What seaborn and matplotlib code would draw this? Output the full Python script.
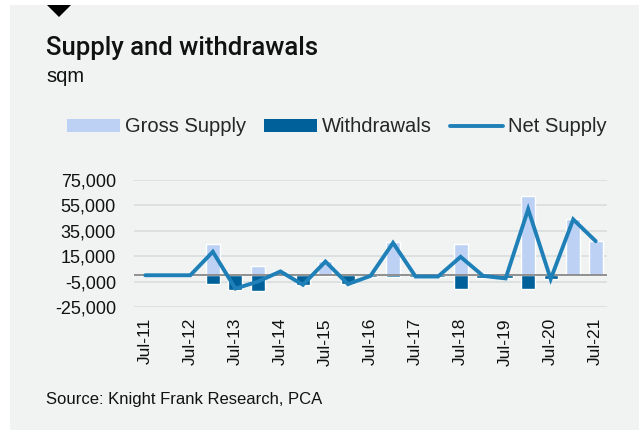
import numpy as np
import pandas as pd
import matplotlib
matplotlib.use('Agg')
import matplotlib.pyplot as plt
from matplotlib.patches import Rectangle, Polygon, Patch
from matplotlib.lines import Line2D
import seaborn as sns

# half-yearly periods, Jul-11 to Jul-21
periods = ['Jul-11', 'Jan-12', 'Jul-12', 'Jan-13', 'Jul-13', 'Jan-14', 'Jul-14',
           'Jan-15', 'Jul-15', 'Jan-16', 'Jul-16', 'Jan-17', 'Jul-17', 'Jan-18',
           'Jul-18', 'Jan-19', 'Jul-19', 'Jan-20', 'Jul-20', 'Jan-21', 'Jul-21']
gross = [0, 0, 0, 25000, 1000, 7500, 3000, 0, 11300, 0, 800, 26500, 500, 500,
         25000, 1500, 0, 62500, 0, 44000, 26800]
withdrawals = [0, 0, 0, -6500, -11500, -12500, 0, -7500, -500, -7000, -1300, -1000,
               -1500, -1500, -10500, -2000, -2500, -10500, -3000, 0, 0]
net = [0, 0, 0, 18500, -10500, -5000, 3000, -7500, 10800, -7000, -500, 25500,
       -1000, -1000, 14500, -500, -2500, 52000, -3000, 44000, 26800]
xtick_labels = ['Jul-11', 'Jul-12', 'Jul-13', 'Jul-14', 'Jul-15', 'Jul-16',
                'Jul-17', 'Jul-18', 'Jul-19', 'Jul-20', 'Jul-21']
yticks = [-25000, -5000, 15000, 35000, 55000, 75000]

sns.set_style('white')
plt.rcParams['font.family'] = ['Liberation Sans', 'DejaVu Sans']
plt.rcParams['axes.unicode_minus'] = False

bg = '#f0f3f2'
c_gross = '#bdd1f5'
c_wd = '#00609a'
c_net = '#1f80b8'

W, H = 639, 430
fig = plt.figure(figsize=(W / 100, H / 100), dpi=100)
fig.patch.set_facecolor('white')
fig.patches.append(Rectangle((10 / W, 0), 1, 1 - 5 / H, transform=fig.transFigure,
                             facecolor=bg, edgecolor='none', zorder=-5))
fig.patches.append(Polygon([(47 / W, 1 - 5 / H), (71 / W, 1 - 5 / H), (59 / W, 1 - 17 / H)],
                           closed=True, transform=fig.transFigure,
                           facecolor='black', edgecolor='none', zorder=-4))

df = pd.DataFrame({'period': periods, 'gross': gross,
                   'withdrawals': withdrawals, 'net': net})

ax = fig.add_axes([134 / W, 1 - 307 / H, 473 / W, 127 / H])
ax.set_facecolor('none')

sns.barplot(data=df, x='period', y='gross', order=periods, color=c_gross,
            saturation=1, width=0.62, errorbar=None, ax=ax)
sns.barplot(data=df, x='period', y='withdrawals', order=periods, color=c_wd,
            saturation=1, width=0.62, errorbar=None, ax=ax)
ax.axhline(0, color='#7f7f7f', linewidth=1.2, zorder=1.5)
sns.lineplot(data=df, x=df.index, y='net', color=c_net, linewidth=2.8,
             solid_joinstyle='miter', ax=ax, zorder=3)

ax.set_xlim(-0.5, len(periods) - 0.5)
ax.set_ylim(-25000, 75000)
ax.set_xticks(range(0, len(periods), 2))
ax.set_xticklabels(xtick_labels, rotation=90, fontsize=12.5, color='#111111')
ax.set_yticks(yticks)
ax.set_yticklabels([f'{v:,}' for v in yticks], fontsize=13, color='#111111')
ax.tick_params(axis='x', length=0, pad=8)
ax.tick_params(axis='y', length=0, pad=13)
ax.grid(axis='y', color='#dcdfdf', linewidth=1.3)
ax.set_axisbelow(True)
for s in ax.spines.values():
    s.set_visible(False)
ax.set_xlabel('')
ax.set_ylabel('')
if ax.get_legend() is not None:
    ax.get_legend().remove()

handles = [Patch(facecolor=c_gross, edgecolor='none'),
           Patch(facecolor=c_wd, edgecolor='none'),
           Line2D([0], [0], color=c_net, linewidth=2.8)]
fig.legend(handles, ['Gross Supply', 'Withdrawals', 'Net Supply'],
           loc='center left', bbox_to_anchor=(67 / W, 1 - 127 / H), ncol=3,
           frameon=False, fontsize=14.5, borderpad=0, borderaxespad=0,
           handlelength=2.65, handleheight=0.6, handletextpad=0.22,
           columnspacing=0.9)

fig.text(46 / W, 1 - 55 / H, 'Supply and withdrawals', fontsize=18.5,
         family=['Roboto', 'Liberation Sans'], weight='medium',
         color='#111111', va='baseline', ha='left')
fig.text(46 / W, 1 - 82 / H, 'sqm', fontsize=14.5, color='#111111',
         va='baseline', ha='left')
fig.text(46 / W, 1 - 404 / H, 'Source: Knight Frank Research, PCA', fontsize=12,
         color='#111111', va='baseline', ha='left')

fig.savefig('out.png', dpi=100, facecolor=fig.get_facecolor())
